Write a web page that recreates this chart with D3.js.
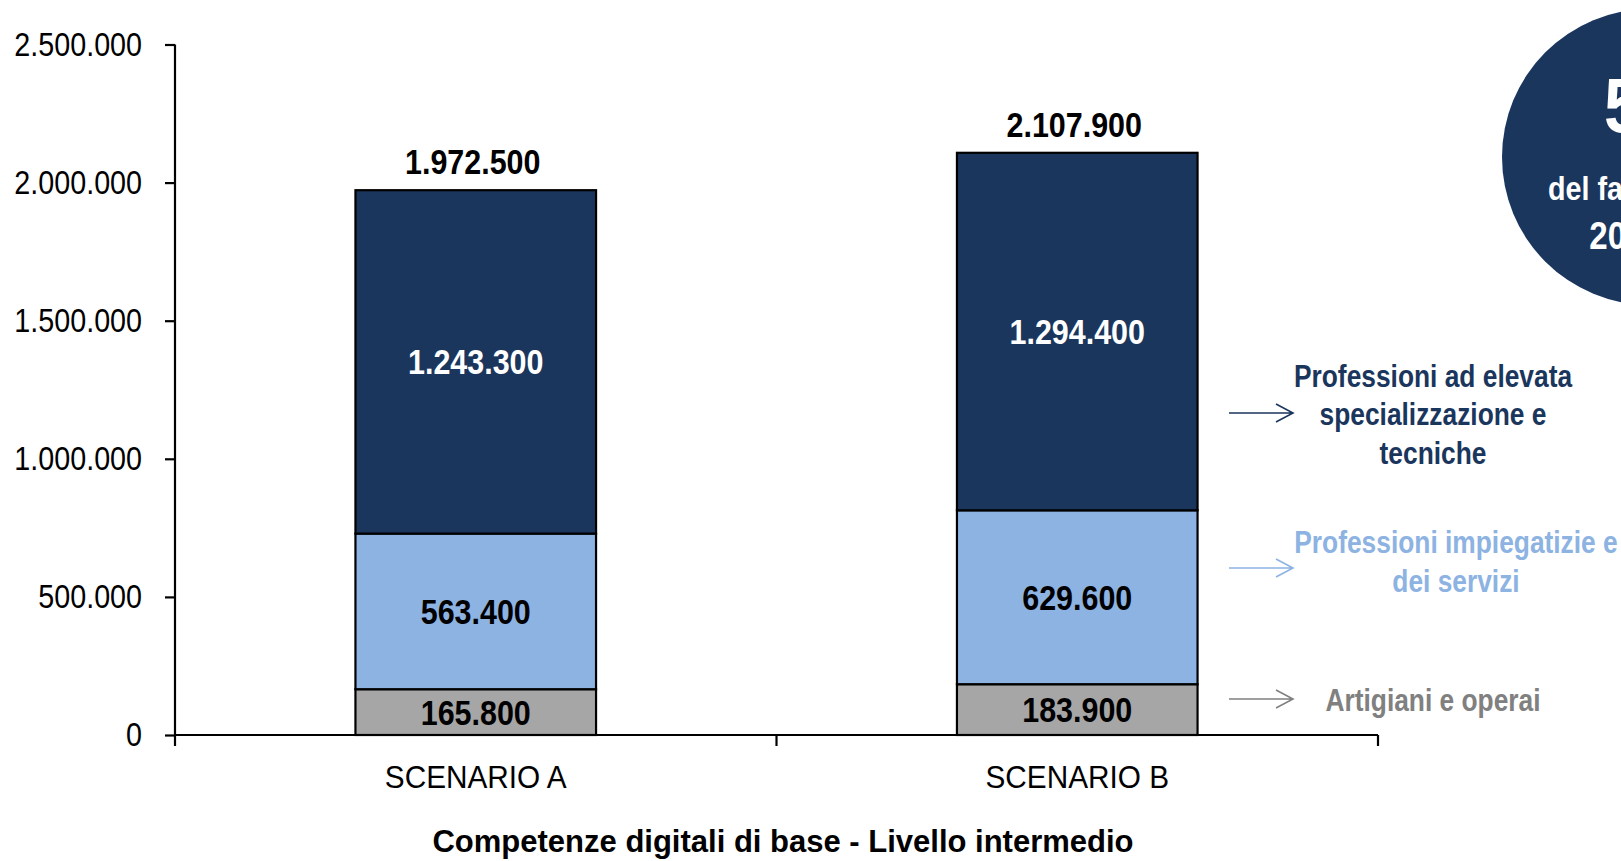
<!DOCTYPE html>
<html>
<head>
<meta charset="utf-8">
<script src="https://cdn.jsdelivr.net/npm/d3@7"></script>
<style>
  html, body { margin: 0; padding: 0; background: #ffffff; overflow: hidden; }
  svg { display: block; }
  text { font-family: "Liberation Sans", Arial, sans-serif; }
</style>
</head>
<body>
<svg id="chart" width="1621" height="861"></svg>
<script>
// Stacked columns: employment needs by professional group, two scenarios
const categories = ["SCENARIO A", "SCENARIO B"];
const seriesNames = [
  "Artigiani e operai",
  "Professioni impiegatizie e dei servizi",
  "Professioni ad elevata specializzazione e tecniche"
];
const artigiani = [165800, 183900];
const impiegatizie = [563400, 629600];
const elevata = [1243300, 1294400];
const totals = [1972500, 2107900];
const yTicks = [0, 500000, 1000000, 1500000, 2000000, 2500000];
const axisTitle = "Competenze digitali di base - Livello intermedio";

const navy = "#1b365d";
const colors = [ "#a6a6a6", "#8db3e2", navy ];
const labelColors = [ "#000000", "#000000", "#ffffff" ];

const it = d3.formatLocale({ decimal: ",", thousands: ".", grouping: [3], currency: ["€", ""] });
const fmt = it.format(",");

// Condensed lettering: squeeze text horizontally around its anchor point
function squeeze(sel, k) {
  sel.each(function () {
    const t = d3.select(this);
    const tx = +t.attr("x") || 0;
    const ty = +t.attr("y") || 0;
    t.attr("x", 0).attr("y", 0)
     .attr("transform", `translate(${tx},${ty}) scale(${k},1)`);
  });
}

const svg = d3.select("#chart");

const plotLeft = 175, plotRight = 1378, plotBottom = 735, plotTop = 44.5;

const x = d3.scaleBand()
  .domain(categories)
  .range([plotLeft, plotRight])
  .paddingInner(0.6)
  .paddingOuter(0.3);

const y = d3.scaleLinear()
  .domain([0, 2500000])
  .range([plotBottom, plotTop]);

// Build the stack from the three series arrays
const rows = categories.map((c, i) => ({
  cat: c,
  [seriesNames[0]]: artigiani[i],
  [seriesNames[1]]: impiegatizie[i],
  [seriesNames[2]]: elevata[i]
}));
const stacked = d3.stack().keys(seriesNames)(rows);

// Bars
const layers = svg.append("g").selectAll("g")
  .data(stacked)
  .join("g")
  .attr("fill", (d, i) => colors[i]);

layers.selectAll("rect")
  .data(d => d)
  .join("rect")
  .attr("x", d => x(d.data.cat))
  .attr("width", x.bandwidth())
  .attr("y", d => y(d[1]))
  .attr("height", d => y(d[0]) - y(d[1]))
  .attr("stroke", "#000")
  .attr("stroke-width", 2.2);

// Segment value labels
stacked.forEach((layer, li) => {
  svg.append("g").selectAll("text")
    .data(layer)
    .join("text")
    .attr("x", d => x(d.data.cat) + x.bandwidth() / 2)
    .attr("y", d => y((d[0] + d[1]) / 2))
    .attr("dy", "0.36em")
    .attr("text-anchor", "middle")
    .attr("font-weight", "bold")
    .attr("font-size", 35)
    .attr("fill", labelColors[li])
    .text(d => fmt(d[1] - d[0]))
    .call(squeeze, 0.87);
});

// Totals above the columns
svg.append("g").selectAll("text")
  .data(categories)
  .join("text")
  .attr("x", c => x(c) + x.bandwidth() / 2 - 3)
  .attr("y", (c, i) => y(totals[i]) - 16)
  .attr("text-anchor", "middle")
  .attr("font-weight", "bold")
  .attr("font-size", 35)
  .attr("fill", "#000")
  .text((c, i) => fmt(totals[i]))
  .call(squeeze, 0.87);

// Y axis
const yAxis = svg.append("g")
  .attr("transform", `translate(${plotLeft},0)`)
  .call(d3.axisLeft(y).tickValues(yTicks).tickFormat(fmt).tickSize(10).tickPadding(23));
yAxis.select(".domain").attr("stroke", "#000").attr("stroke-width", 2.2)
  .attr("d", `M0,${plotTop}V${plotBottom + 11}`);
yAxis.selectAll(".tick line").attr("stroke", "#000").attr("stroke-width", 2.2);
yAxis.selectAll(".tick text")
  .attr("font-size", 33)
  .attr("fill", "#000")
  .style("font-family", "\"Liberation Sans\", Arial, sans-serif")
  .call(squeeze, 0.87);

// X axis: baseline, boundary ticks and category labels
const xAxis = svg.append("g")
  .attr("transform", `translate(0,${plotBottom})`)
  .call(d3.axisBottom(x).tickSize(0).tickPadding(40));
xAxis.select(".domain").attr("stroke", "#000").attr("stroke-width", 2.2)
  .attr("d", `M${plotLeft},0H${plotRight}`);
xAxis.selectAll(".tick text")
  .attr("font-size", 31)
  .attr("fill", "#000")
  .attr("dy", 0)
  .attr("y", 53)
  .style("font-family", "\"Liberation Sans\", Arial, sans-serif")
  .call(squeeze, 0.96);

const step = x.step();
const boundaries = [plotLeft + step, plotRight];
xAxis.selectAll(".bound")
  .data(boundaries)
  .join("line")
  .attr("class", "bound")
  .attr("x1", d => d).attr("x2", d => d)
  .attr("y1", 0).attr("y2", 11)
  .attr("stroke", "#000").attr("stroke-width", 2.2);

// Axis title
svg.append("text")
  .attr("x", 783)
  .attr("y", 852)
  .attr("text-anchor", "middle")
  .attr("font-weight", "bold")
  .attr("font-size", 31)
  .attr("fill", "#000")
  .text(axisTitle);

// Legend with arrows
const legend = [
  { lines: ["Professioni ad elevata", "specializzazione e", "tecniche"], color: navy, cx: 1433, base: 386.5, arrowY: 413 },
  { lines: ["Professioni impiegatizie e", "dei servizi"], color: "#8db3e2", cx: 1456, base: 553, arrowY: 568 },
  { lines: ["Artigiani e operai"], color: "#808080", cx: 1433, base: 711, arrowY: 699 }
];
const lg = svg.append("g");
legend.forEach(item => {
  const g = lg.append("g");
  g.append("path")
    .attr("d", `M1229,${item.arrowY}H1293M1276,${item.arrowY - 9}L1293,${item.arrowY}L1276,${item.arrowY + 9}`)
    .attr("fill", "none")
    .attr("stroke", item.color)
    .attr("stroke-width", 1.6);
  g.selectAll("text")
    .data(item.lines)
    .join("text")
    .attr("x", item.cx)
    .attr("y", (d, i) => item.base + i * 38.7)
    .attr("text-anchor", "middle")
    .attr("font-weight", "bold")
    .attr("font-size", 31)
    .attr("fill", item.color)
    .text(d => d)
    .call(squeeze, 0.85);
});

// Highlight badge in the top-right corner
const badge = svg.append("g");
badge.append("circle")
  .attr("cx", 1650).attr("cy", 157).attr("r", 148)
  .attr("fill", navy);
badge.append("text")
  .attr("x", 1604).attr("y", 132)
  .attr("text-anchor", "start")
  .attr("font-weight", "bold")
  .attr("font-size", 78)
  .attr("fill", "#fff")
  .text("53%")
  .call(squeeze, 0.87);
badge.append("text")
  .attr("x", 1650).attr("y", 200)
  .attr("text-anchor", "middle")
  .attr("font-weight", "bold")
  .attr("font-size", 33)
  .attr("fill", "#fff")
  .text("del fabbisogno")
  .call(squeeze, 0.87);
badge.append("text")
  .attr("x", 1650).attr("y", 249)
  .attr("text-anchor", "middle")
  .attr("font-weight", "bold")
  .attr("font-size", 38)
  .attr("fill", "#fff")
  .text("2024-28")
  .call(squeeze, 0.87);
</script>
</body>
</html>
